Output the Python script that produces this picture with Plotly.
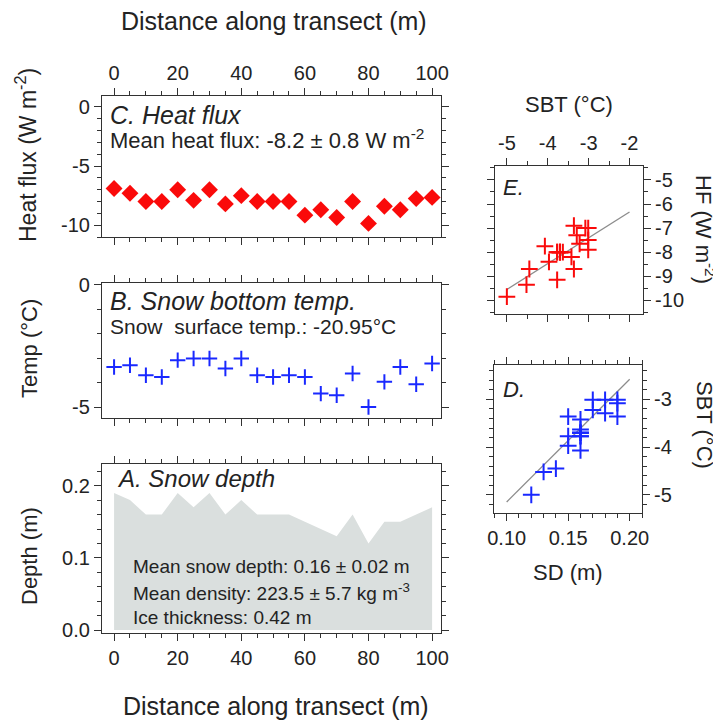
import plotly.graph_objects as go

W, H = 713, 726

# ---------------- data ----------------
distance = [0, 5, 10, 15, 20, 25, 30, 35, 40, 45, 50, 55, 60, 65, 70, 75, 80, 85, 90, 95, 100]
heat_flux = [-6.9, -7.3, -8.0, -8.0, -7.0, -7.9, -7.0, -8.2, -7.5, -8.0, -8.0, -8.0,
             -9.15, -8.7, -9.35, -8.0, -9.85, -8.4, -8.7, -7.75, -7.65]
snow_bottom_temp = [-3.36, -3.29, -3.70, -3.77, -3.08, -3.01, -3.01, -3.42, -3.01, -3.70, -3.77,
                    -3.70, -3.77, -4.45, -4.52, -3.63, -5.0, -3.97, -3.36, -4.07, -3.22]
snow_depth = [0.19, 0.18, 0.16, 0.16, 0.19, 0.17, 0.19, 0.16, 0.18, 0.16, 0.16, 0.16,
              0.15, 0.14, 0.13, 0.16, 0.12, 0.15, 0.15, 0.16, 0.17]

# regression lines
fitE_sbt = [-5.0, -2.0]
fitE_hf = [-9.55, -6.33]
fitD_sd = [0.10, 0.20]
fitD_sbt = [-5.15, -2.58]

dist_ticks = [0, 20, 40, 60, 80, 100]
dist_ticktext = ["0", "20", "40", "60", "80", "100"]
hf_ticks = [0, -5, -10]
hf_ticktext = ["0", "-5", "-10"]
temp_ticks = [0, -5]
temp_ticktext = ["0", "-5"]
depth_ticks = [0.0, 0.1, 0.2]
depth_ticktext = ["0.0", "0.1", "0.2"]
sbt_ticks = [-5, -4, -3, -2]
sbt_ticktext = ["-5", "-4", "-3", "-2"]
hfE_ticks = [-5, -6, -7, -8, -9, -10]
hfE_ticktext = ["-5", "-6", "-7", "-8", "-9", "-10"]
sd_ticks = [0.10, 0.15, 0.20]
sd_ticktext = ["0.10", "0.15", "0.20"]
sbtD_ticks = [-3, -4, -5]
sbtD_ticktext = ["-3", "-4", "-5"]

# ---------------- style ----------------
FONT = "Liberation Sans, Arial, Helvetica, sans-serif"
TXT = "rgb(35,35,35)"
AX = "rgb(50,50,50)"
RED = "rgb(250,10,10)"
BLUE = "rgb(25,40,255)"
FILL = "rgb(218,223,222)"
FIT = "rgb(140,140,140)"

def px(x):
    return x / W

def py(y):
    return 1 - y / H

fig = go.Figure()

# Panel C heat flux
fig.add_trace(go.Scatter(x=distance, y=heat_flux, mode="markers",
                         marker=dict(symbol="diamond", size=13, color=RED),
                         xaxis="x", yaxis="y", showlegend=False))
# Panel B snow bottom temp
fig.add_trace(go.Scatter(x=distance, y=snow_bottom_temp, mode="markers",
                         marker=dict(symbol="cross-thin", size=11, line=dict(color=BLUE, width=2)),
                         xaxis="x2", yaxis="y2", showlegend=False))
# Panel A snow depth
fig.add_trace(go.Scatter(x=distance, y=snow_depth, mode="lines", fill="tozeroy",
                         fillcolor=FILL, line=dict(width=0, color=FILL),
                         xaxis="x3", yaxis="y3", showlegend=False))
# Panel E
fig.add_trace(go.Scatter(x=fitE_sbt, y=fitE_hf, mode="lines", line=dict(color=FIT, width=1.3),
                         xaxis="x4", yaxis="y4", showlegend=False))
fig.add_trace(go.Scatter(x=snow_bottom_temp, y=heat_flux, mode="markers",
                         marker=dict(symbol="cross-thin", size=12, line=dict(color=RED, width=2)),
                         xaxis="x4", yaxis="y4", showlegend=False))
# Panel D
fig.add_trace(go.Scatter(x=fitD_sd, y=fitD_sbt, mode="lines", line=dict(color=FIT, width=1.3),
                         xaxis="x5", yaxis="y5", showlegend=False))
fig.add_trace(go.Scatter(x=snow_depth, y=snow_bottom_temp, mode="markers",
                         marker=dict(symbol="cross-thin", size=12, line=dict(color=BLUE, width=2)),
                         xaxis="x5", yaxis="y5", showlegend=False))

def axis(dom, rng, anchor, side, tickvals, ticktext, minor, labels=True):
    return dict(domain=dom, range=rng, anchor=anchor, side=side, showline=True, linecolor=AX,
                linewidth=1.2, mirror="allticks", ticks="outside", ticklen=7, tickwidth=1.2,
                tickcolor=AX, showgrid=False, zeroline=False, automargin=False,
                showticklabels=labels, tickfont=dict(family=FONT, size=20, color=TXT),
                tickmode="array", tickvals=tickvals, ticktext=ticktext,
                minor=dict(dtick=minor, ticks="outside", ticklen=4, tickwidth=1,
                           tickcolor=AX, showgrid=False))

xdom = [px(102), px(441)]
layout = dict(
    width=W, height=H, margin=dict(l=0, r=0, t=0, b=0),
    paper_bgcolor="white", plot_bgcolor="white", showlegend=False,
    font=dict(family=FONT, color=TXT),
    xaxis=axis(xdom, [-3.8, 102.8], "y", "top", dist_ticks, dist_ticktext, 5),
    yaxis=axis([py(237), py(96)], [-11.0, 0.93], "x", "left", hf_ticks, hf_ticktext, 1),
    xaxis2=axis(xdom, [-3.8, 102.8], "y2", "bottom", dist_ticks, dist_ticktext, 5, labels=False),
    yaxis2=axis([py(418), py(283)], [-5.45, 0.08], "x2", "left", temp_ticks, temp_ticktext, 1),
    xaxis3=axis(xdom, [-3.8, 102.8], "y3", "bottom", dist_ticks, dist_ticktext, 5),
    yaxis3=axis([py(633), py(464)], [-0.004, 0.23], "x3", "left", depth_ticks, depth_ticktext, 0.02),
    xaxis4=axis([px(495), px(643)], [-5.29, -1.67], "y4", "top", sbt_ticks, sbt_ticktext, 0.5),
    yaxis4=axis([py(314), py(166)], [-10.57, -4.42], "x4", "right", hfE_ticks, hfE_ticktext, 0.5),
    xaxis5=axis([px(494), px(642)], [0.0897, 0.210], "y5", "bottom", sd_ticks, sd_ticktext, 0.01),
    yaxis5=axis([py(513), py(365)], [-5.38, -2.28], "x5", "right", sbtD_ticks, sbtD_ticktext, 0.2),
)
fig.update_layout(**layout)

ann = []
def text(x, y, s, size=21, xanchor="center", yanchor="middle", angle=0, italic=False):
    if italic:
        s = "<i>" + s + "</i>"
    ann.append(dict(x=px(x), y=py(y), xref="paper", yref="paper", text=s, showarrow=False,
                    xanchor=xanchor, yanchor=yanchor, textangle=angle,
                    font=dict(family=FONT, size=size, color=TXT)))

text(274, 21, "Distance along transect (m)", size=25)
text(276, 706, "Distance along transect (m)", size=25)
text(26, 155, "Heat flux (W m<sup>-2</sup>)", size=23, angle=-90)
text(29, 349, "Temp (°C)", size=22, angle=-90)
text(29, 556, "Depth (m)", size=22, angle=-90)

text(108, 115, "C. Heat flux", size=25, xanchor="left", italic=True)
text(108, 139, "Mean heat flux: -8.2 ± 0.8 W m<sup>-2</sup>", size=22, xanchor="left")
text(108, 301, "B. Snow bottom temp.", size=25, xanchor="left", italic=True)
text(108, 327, "Snow  surface temp.: -20.95°C", size=21, xanchor="left")
text(115, 478, "A. Snow depth", size=24, xanchor="left", italic=True)
text(131, 566, "Mean snow depth: 0.16 ± 0.02 m", size=19, xanchor="left")
text(131, 592, "Mean density: 223.5 ± 5.7 kg m<sup>-3</sup>", size=19, xanchor="left")
text(131, 617, "Ice thickness: 0.42 m", size=19, xanchor="left")

text(569, 104, "SBT (°C)", size=22)
text(501, 187, "E.", size=22, xanchor="left", italic=True)
text(705, 229, "HF (W m<sup>-2</sup>)", size=22, angle=90)
text(501, 389, "D.", size=22, xanchor="left", italic=True)
text(705, 425, "SBT (°C)", size=22, angle=90)
text(568, 572, "SD (m)", size=22)

fig.update_layout(annotations=ann)
fig.write_html("out.html", config={"displayModeBar": False},
               post_script="document.body.style.margin='0';document.body.style.overflow='hidden';")
